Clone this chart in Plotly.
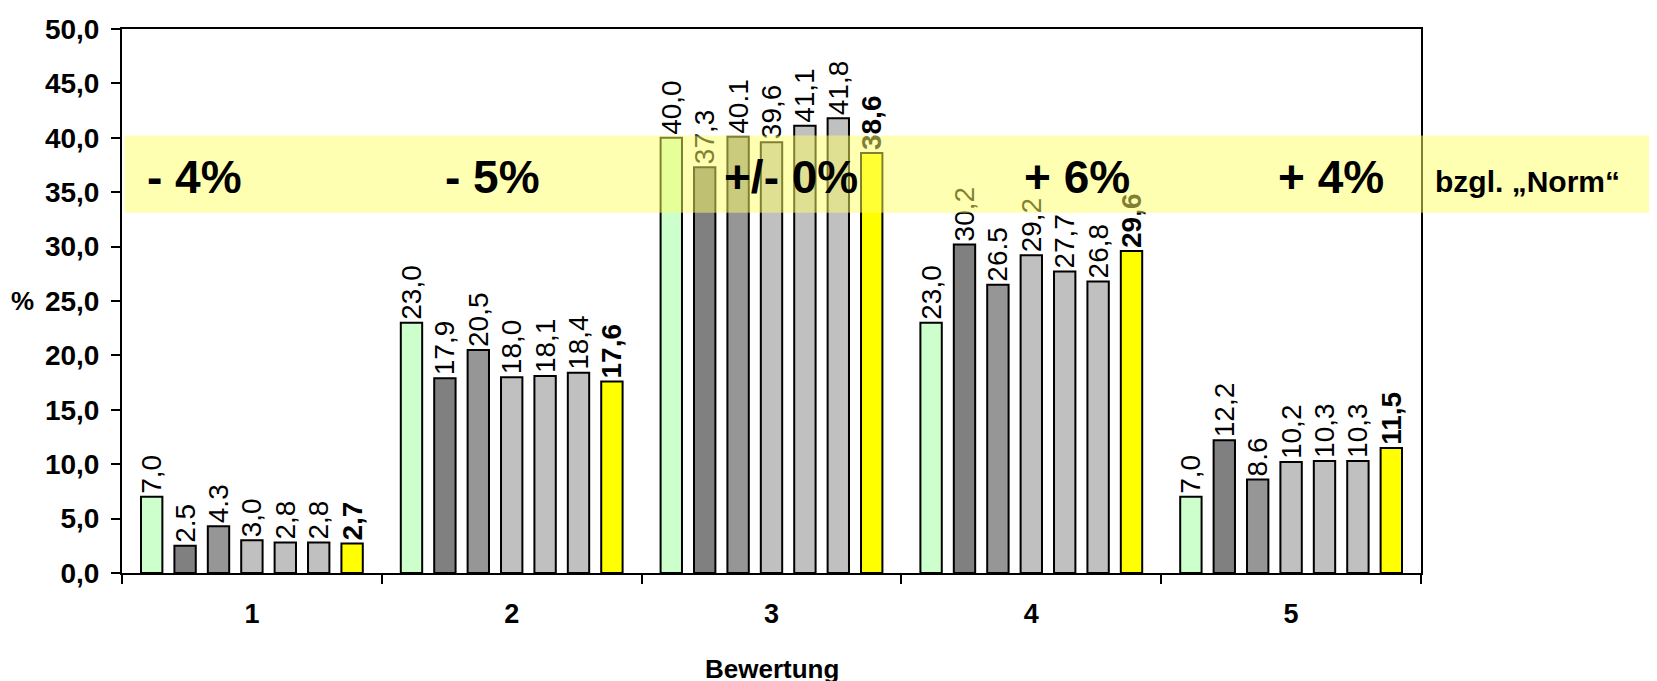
import plotly.graph_objects as go

# Bewertung categories
categories = ['1', '2', '3', '4', '5']

# one list per series (values in %)
norm = [7.0, 23.0, 40.0, 23.0, 7.0]
serie_a = [2.5, 17.9, 37.3, 30.2, 12.2]
serie_b = [4.3, 20.5, 40.1, 26.5, 8.6]
serie_c = [3.0, 18.0, 39.6, 29.2, 10.2]
serie_d = [2.8, 18.1, 41.1, 27.7, 10.3]
serie_e = [2.8, 18.4, 41.8, 26.8, 10.3]
aktuell = [2.7, 17.6, 38.6, 29.6, 11.5]

# bar labels as printed in the original (mixed separators)
labels_norm = ['7,0', '23,0', '40,0', '23,0', '7,0']
labels_a = ['2.5', '17,9', '37,3', '30,2', '12,2']
labels_b = ['4.3', '20,5', '40.1', '26.5', '8.6']
labels_c = ['3,0', '18,0', '39,6', '29,2', '10,2']
labels_d = ['2,8', '18,1', '41,1', '27,7', '10,3']
labels_e = ['2,8', '18,4', '41,8', '26,8', '10,3']
labels_akt = ['2,7', '17,6', '38,6', '29,6', '11,5']

# deviation texts in the yellow band
band_texts = ['- 4%', '- 5%', '+/- 0%', '+ 6%', '+ 4%']
band_x = [0.056, 0.285, 0.515, 0.735, 0.931]

FONT = 'Liberation Sans, Arial, sans-serif'

series = [
    (norm, labels_norm, '#ccffcc', 'normal'),
    (serie_a, labels_a, '#808080', 'normal'),
    (serie_b, labels_b, '#969696', 'normal'),
    (serie_c, labels_c, '#c0c0c0', 'normal'),
    (serie_d, labels_d, '#c0c0c0', 'normal'),
    (serie_e, labels_e, '#c0c0c0', 'normal'),
    (aktuell, labels_akt, '#ffff00', 'bold'),
]

fig = go.Figure()
for vals, labs, col, w in series:
    fig.add_trace(go.Bar(
        x=categories, y=vals, text=labs,
        textposition='outside', textangle=-90, constraintext='none',
        textfont=dict(family=FONT, size=28, color='black', weight=w),
        marker=dict(color=col, line=dict(color='black', width=2)),
        cliponaxis=False, showlegend=False,
    ))

# yellow "Norm" band, drawn over the bars
fig.add_shape(type='rect', xref='paper', yref='y', x0=0.002, x1=1.2,
              y0=33.1, y1=40.2, fillcolor='rgba(255,255,102,0.5)',
              line=dict(width=0), layer='above')

for t, xp in zip(band_texts, band_x):
    fig.add_annotation(text='<b>%s</b>' % t, xref='paper', yref='y', x=xp, y=36.4,
                       xanchor='center', yanchor='middle',
                       showarrow=False, font=dict(family=FONT, size=46, color='black'))

fig.add_annotation(text='<b>bzgl. „Norm“</b>', xref='paper', yref='y', x=1.082, y=36.0,
                   xanchor='center', yanchor='middle',
                   showarrow=False, font=dict(family=FONT, size=30, color='black'))

fig.add_annotation(text='<b>%</b>', xref='paper', yref='y', x=-0.066, y=25,
                   xanchor='right', showarrow=False, font=dict(family=FONT, size=26, color='black'))

fig.add_annotation(text='<b>Bewertung</b>', xref='paper', yref='paper', x=0.5, y=-0.176,
                   xanchor='center', yanchor='middle',
                   showarrow=False, font=dict(family=FONT, size=26, color='black'))

# the page body adds 8px, so margins are shifted accordingly
fig.update_layout(
    width=1657, height=681,
    margin=dict(l=114, r=244, t=21, b=116, autoexpand=False),
    barmode='group', bargap=0.1, bargroupgap=0.36,
    plot_bgcolor='white', paper_bgcolor='white',
    separators=',.',
    font=dict(family=FONT, color='black'),
)
fig.update_xaxes(type='category', showline=True, linecolor='black', linewidth=2, mirror=True,
                 ticks='outside', tickson='boundaries', ticklen=9, tickwidth=2, tickcolor='black',
                 ticklabelstandoff=16,
                 tickfont=dict(family=FONT, size=27, weight='bold'), showgrid=False, automargin=False)
fig.update_yaxes(range=[0, 50], dtick=5, tickformat='.1f', showline=True, linecolor='black',
                 linewidth=2, mirror=True, ticks='outside', ticklen=9, tickwidth=2, tickcolor='black',
                 ticklabelstandoff=6,
                 tickfont=dict(family=FONT, size=28, weight='bold'), showgrid=False, zeroline=False,
                 automargin=False)

fig.write_html('out.html')
